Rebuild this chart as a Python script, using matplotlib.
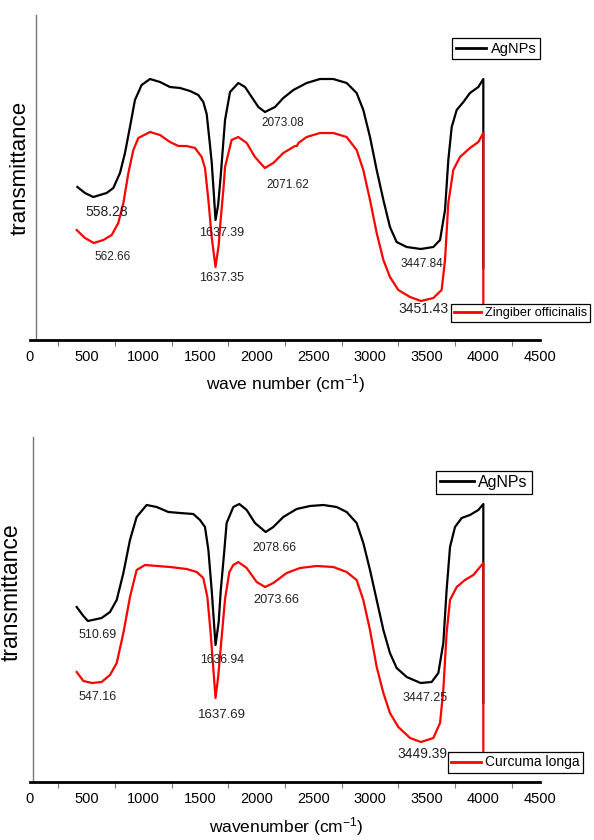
import numpy as np
import matplotlib
matplotlib.use('Agg')
import matplotlib.pyplot as plt
from matplotlib.lines import Line2D

plt.rcParams['font.family'] = ['Liberation Sans', 'DejaVu Sans']
plt.rcParams['mathtext.default'] = 'regular'

# ---- data (wavenumber, transmittance in arbitrary units) ----
# top panel: AgNPs vs Zingiber officinalis
wn_top_ag = [418, 485, 558, 676, 735, 794, 838, 882, 926, 985, 1059, 1147, 1235, 1324, 1412,
             1485, 1529, 1559, 1588, 1603, 1618, 1637, 1660, 1682, 1721, 1765, 1838, 1897, 1956,
             2015, 2073, 2162, 2235, 2324, 2441, 2559, 2676, 2794, 2882, 2941, 3000, 3059, 3118,
             3176, 3235, 3324, 3448, 3559, 3618, 3662, 3691, 3721, 3765, 3824, 3882, 3956, 4000,
             4000]
t_top_ag = [153, 147, 143, 147, 152, 167, 187, 213, 240, 255, 261, 258, 253, 252, 249,
            245, 238, 226, 195, 178, 153, 120, 135, 163, 220, 248, 257, 253, 243,
            233, 228, 233, 242, 250, 257, 261, 261, 257, 247, 230, 203, 170, 140,
            113, 98, 93, 91, 93, 100, 130, 180, 213, 230, 238, 247, 253, 261,
            72]

wn_top_zo = [412, 485, 563, 647, 721, 779, 824, 868, 912, 956, 1059, 1147, 1235, 1309, 1382,
             1456, 1515, 1544, 1574, 1603, 1637, 1665, 1682, 1706, 1721, 1779, 1838, 1912, 1985,
             2072, 2147, 2235, 2338, 2355, 2368, 2441, 2559, 2676, 2794, 2882, 2941, 3000, 3059,
             3118, 3176, 3250, 3353, 3451, 3559, 3632, 3662, 3691, 3735, 3794, 3882, 3956, 4000,
             4000]
t_top_zo = [110, 102, 97, 100, 105, 117, 137, 167, 190, 202, 208, 205, 198, 194, 194,
            192, 183, 172, 140, 103, 73, 95, 120, 150, 173, 200, 203, 197, 183,
            172, 177, 187, 194, 194, 197, 203, 207, 207, 203, 190, 170, 140, 107,
            80, 63, 50, 43, 39, 42, 50, 80, 137, 170, 183, 192, 198, 207,
            25]

# bottom panel: AgNPs vs Curcuma longa
wn_bot_ag = [412, 471, 511, 632, 706, 765, 824, 882, 941, 1029, 1118, 1221, 1324, 1441, 1500,
             1544, 1574, 1603, 1637, 1665, 1682, 1712, 1735, 1794, 1847, 1912, 1985, 2079, 2147,
             2235, 2353, 2471, 2588, 2706, 2794, 2882, 2941, 3000, 3059, 3118, 3176, 3235, 3324,
             3447, 3544, 3603, 3647, 3676, 3706, 3750, 3809, 3882, 3956, 4000, 4000]
t_bot_ag = [175, 166, 161, 164, 170, 182, 209, 242, 265, 277, 275, 270, 269, 268, 262,
            255, 232, 192, 137, 160, 190, 228, 259, 275, 278, 272, 259, 250, 255,
            265, 273, 276, 277, 275, 270, 259, 239, 212, 182, 152, 129, 114, 105,
            99, 100, 109, 139, 192, 235, 255, 264, 267, 272, 278, 79]

wn_bot_cl = [412, 471, 547, 632, 706, 765, 824, 882, 941, 1015, 1235, 1382, 1471, 1529, 1565,
             1594, 1637, 1660, 1682, 1721, 1759, 1794, 1838, 1912, 2000, 2074, 2147, 2265, 2382,
             2529, 2676, 2794, 2882, 2941, 3000, 3059, 3118, 3176, 3250, 3353, 3449, 3559, 3618,
             3647, 3676, 3706, 3765, 3838, 3912, 4000, 4000]
t_bot_cl = [110, 101, 99, 100, 107, 119, 149, 185, 212, 217, 215, 213, 210, 204, 185,
            149, 84, 105, 133, 183, 210, 217, 220, 214, 200, 195, 199, 209, 214,
            216, 215, 210, 202, 182, 152, 115, 89, 69, 55, 44, 40, 44, 59,
            92, 149, 182, 195, 202, 207, 219, 20]

# peak labels: text, x, y, size
lab_top = [('558.28', 679, 128, 10), ('562.66', 732, 83, 8.5), ('1637.39', 1694, 107, 9),
           ('1637.35', 1694, 62, 9), ('2073.08', 2232, 217, 8.5), ('2071.62', 2276, 155, 8.5),
           ('3447.84', 3459, 76, 8.5), ('3451.43', 3476, 31, 10)]
lab_bot = [('510.69', 600, 147, 9), ('547.16', 600, 85, 9), ('1636.94', 1694, 122, 8.8),
           ('1637.69', 1694, 67, 9.5), ('2078.66', 2153, 234, 8.8), ('2073.66', 2171, 182, 9.2),
           ('3447.25', 3485, 84, 9), ('3449.39', 3459, 28, 10)]

fig = plt.figure(figsize=(5.94, 8.40), dpi=100)
ax1 = fig.add_axes([30/594, 1-340/840, 510/594, 325/840])
ax2 = fig.add_axes([30/594, 1-782/840, 510/594, 345/840])


def style(ax, ytop, spine_x, xlabel, xl_y, yl_x, yl_y, yl_size):
    ax.set_xlim(0, 4500)
    ax.set_ylim(0, ytop)
    ax.spines['top'].set_visible(False)
    ax.spines['right'].set_visible(False)
    ax.spines['left'].set_position(('data', spine_x))
    ax.spines['left'].set_color('#777777')
    ax.spines['left'].set_linewidth(1.0)
    ax.spines['bottom'].set_linewidth(2.0)
    ax.set_yticks([])
    ax.set_xticks(np.arange(0, 4501, 500))
    ax.set_xticks(np.arange(250, 4500, 500), minor=True)
    ax.tick_params(axis='x', which='major', length=0, labelsize=10.5, pad=7)
    ax.tick_params(axis='x', which='minor', length=4, width=0.8, color='#777777')
    ax.set_xlabel(xlabel, fontsize=12.5)
    ax.xaxis.set_label_coords(0.502, xl_y)
    ax.set_ylabel('transmittance', fontsize=yl_size)
    ax.yaxis.set_label_coords(yl_x, yl_y)


def legends(ax, name, p1, p2, s1, s2):
    kw = dict(loc='upper left', bbox_transform=fig.transFigure, borderaxespad=0,
              fancybox=False, framealpha=1, edgecolor='black', borderpad=0.25,
              handlelength=2.1, handletextpad=0.3)
    l1 = ax.legend([Line2D([], [], color='black', lw=2)], ['AgNPs'],
                   bbox_to_anchor=p1, fontsize=s1, **kw)
    l1.get_frame().set_linewidth(0.9)
    ax.add_artist(l1)
    l2 = ax.legend([Line2D([], [], color='red', lw=2)], [name],
                   bbox_to_anchor=p2, fontsize=s2, **kw)
    l2.get_frame().set_linewidth(0.9)


ax1.plot(wn_top_ag, t_top_ag, color='black', lw=1.6, solid_joinstyle='round')
ax1.plot(wn_top_zo, t_top_zo, color='red', lw=1.6, solid_joinstyle='round')
for s, x, y, fs in lab_top:
    ax1.text(x, y, s, fontsize=fs, ha='center', va='center', color='#222222')
style(ax1, 325, 50, 'wave number (cm$^{-1}$)', -0.098, 0.002, 0.53, 16)
legends(ax1, 'Zingiber officinalis', (452/594, 1-38/840), (451/594, 1-304/840), 10.5, 9.2)

ax2.plot(wn_bot_ag, t_bot_ag, color='black', lw=1.6, solid_joinstyle='round')
ax2.plot(wn_bot_cl, t_bot_cl, color='red', lw=1.6, solid_joinstyle='round')
for s, x, y, fs in lab_bot:
    ax2.text(x, y, s, fontsize=fs, ha='center', va='center', color='#222222')
style(ax2, 345, 25, 'wavenumber (cm$^{-1}$)', -0.096, -0.014, 0.55, 16.5)
legends(ax2, 'Curcuma longa', (436/594, 1-471/840), (448/594, 1-752/840), 11.5, 10)

fig.savefig('out.png', dpi=100)
